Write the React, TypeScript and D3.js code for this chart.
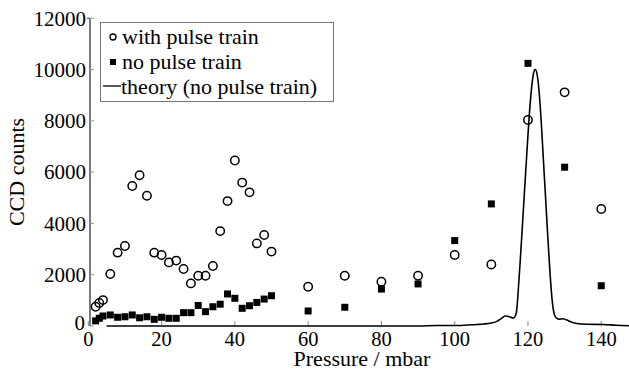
import React from "react";
import * as d3 from "d3";

const pulseP = [2,3,4,6,8,10,12,14,16,18,20,22,24,26,28,30,32,34,36,38,40,42,44,46,48,50,60,70,80,90,100,110,120,130,140];
const pulseV = [750,900,1010,2030,2860,3120,5460,5880,5080,2860,2770,2480,2550,2220,1660,1960,1960,2340,3700,4870,6450,5590,5210,3220,3550,2900,1530,1960,1730,1960,2770,2400,8030,9110,4560];

const noPulseP = [2,3,4,6,8,10,12,14,16,18,20,22,24,26,28,30,32,34,36,38,40,42,44,46,48,50,60,70,80,90,100,110,120,130,140];
const noPulseV = [200,300,390,430,340,360,430,320,360,260,340,300,300,520,520,800,560,750,850,1250,1080,690,790,920,1050,1180,585,730,1440,1640,3330,4760,10240,6190,1570];

const theoryP = [5,30,60,90,95,101,106,108,110,111.5,112.8,113.7,114.8,116,116.8,117.4,118,118.6,119.2,119.8,120.4,121,121.5,122,122.5,123,123.6,124.2,124.8,125.4,126,126.6,127.2,127.8,128.6,129.6,130.6,131.8,133.3,136,140.5,144,148];
const theoryV = [0,0,0,0,20,20,60,80,120,180,300,390,370,310,500,1500,2800,4200,5600,7000,8300,9300,9850,10000,9800,9200,8000,6500,5000,3500,2100,1000,450,310,270,280,230,160,100,70,60,30,10];

const xTicks = [0,20,40,60,80,100,120,140];
const yTicks = [0,2000,4000,6000,8000,10000,12000];

const legendLabels = ["with pulse train", "no pulse train", "theory (no pulse train)"];

const FONT = '"Liberation Serif", "Times New Roman", serif';

export default function App() {
  const W = 629, H = 370;
  const x = d3.scaleLinear().domain([0, 150]).range([88.3, 88.3 + 150 * 3.664]);
  const y = d3.scaleLinear().domain([0, 12000]).range([326, 18.2]);

  const theory = theoryP.map((p, i) => [p, theoryV[i]] as [number, number]);
  const line = d3.line<[number, number]>()
    .x(d => x(d[0]))
    .y(d => y(d[1]))
    .curve(d3.curveMonotoneX);

  const sq = 7;
  const ts = (size: number) => ({ fontFamily: FONT, fontSize: size + "px" });

  return (
    <svg width={W} height={H} style={{ position: "absolute", left: 0, top: 0, background: "#fff" }}>
      <rect x={0} y={0} width={W} height={H} fill="#fff" />
      {/* y axis */}
      <line x1={90} x2={90} y1={y(12000)} y2={y(0)} stroke="#222" strokeWidth={1.2} />
      <line x1={87} x2={90} y1={y(12000)} y2={y(12000)} stroke="#444" strokeWidth={1} />
      {yTicks.map(t => (
        <g key={"yt" + t}>
          <line x1={90} x2={94} y1={y(t)} y2={y(t)} stroke="#999" strokeWidth={1} />
          <text x={t === 0 ? 85 : 86} y={y(t)} dy={t === 0 ? "0.2em" : "0.35em"} textAnchor="end" style={ts(21)} fill="#000">{String(t)}</text>
        </g>
      ))}
      {xTicks.map(t => (
        <g key={"xt" + t}>
          <line x1={x(t)} x2={x(t)} y1={y(0) - 5} y2={y(0)} stroke="#888" strokeWidth={1} />
          <text x={x(t)} y={346} textAnchor="middle" style={ts(20.5)} fill="#000">{String(t)}</text>
        </g>
      ))}
      <text x={362} y={366} textAnchor="middle" style={ts(22)} fill="#000">Pressure / mbar</text>
      <text transform={`translate(24,172) rotate(-90)`} textAnchor="middle" style={ts(22)} fill="#000">CCD counts</text>

      {/* theory line */}
      <path d={line(theory) || ""} fill="none" stroke="#000" strokeWidth={1.6} />

      {/* no pulse squares */}
      {noPulseP.map((p, i) => (
        <rect key={"s" + i} x={x(p) - sq / 2} y={y(noPulseV[i]) - sq / 2} width={sq} height={sq} fill="#000" />
      ))}
      {/* pulse circles */}
      {pulseP.map((p, i) => (
        <circle key={"c" + i} cx={x(p)} cy={y(pulseV[i])} r={4.2} fill="none" stroke="#000" strokeWidth={1.5} />
      ))}

      {/* legend */}
      <rect x={100.5} y={22.5} width={233} height={79} fill="#fff" stroke="#777" strokeWidth={1} />
      <circle cx={113} cy={37} r={3} fill="none" stroke="#000" strokeWidth={1.3} />
      <rect x={110} y={59} width={6} height={6} fill="#000" />
      <line x1={103} x2={121} y1={86} y2={86} stroke="#000" strokeWidth={1.3} />
      <text x={122} y={44} style={ts(22)} fill="#000">{legendLabels[0]}</text>
      <text x={122} y={69} style={ts(22)} fill="#000">{legendLabels[1]}</text>
      <text x={121} y={94} style={ts(22)} fill="#000">{legendLabels[2]}</text>
    </svg>
  );
}
